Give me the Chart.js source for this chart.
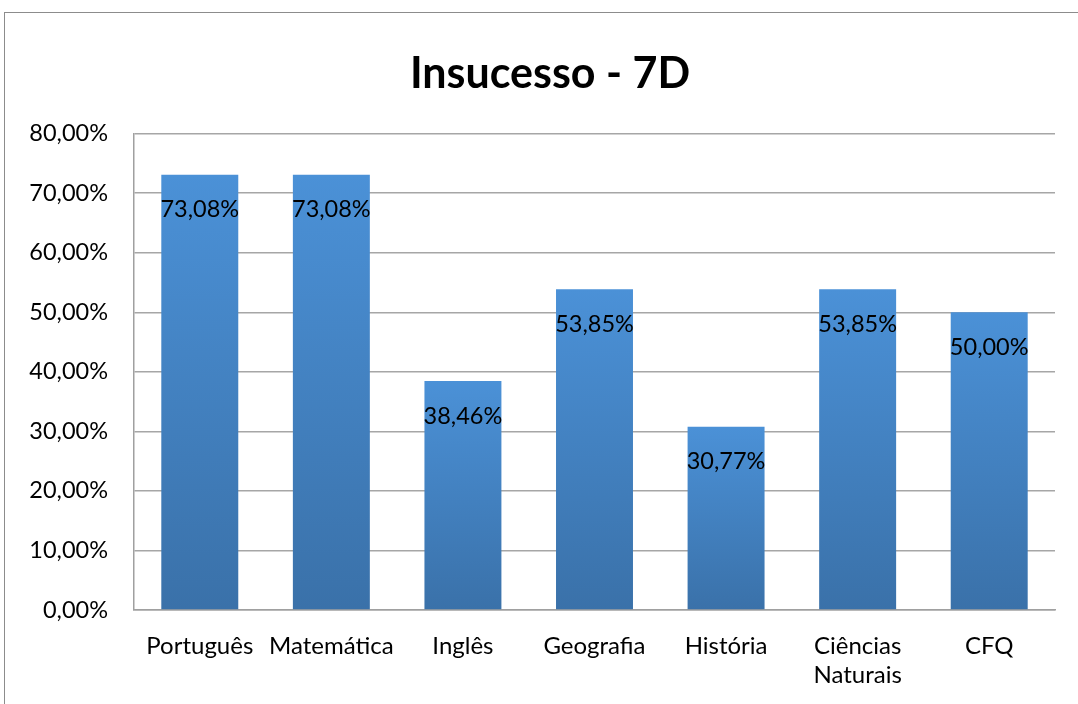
<!DOCTYPE html>
<html>
<head>
<meta charset="utf-8">
<script src="https://cdn.jsdelivr.net/npm/chart.js@4"></script>
<style>
    html, body { margin: 0; padding: 0; background: #fff; overflow: hidden; }
    #frame {
        position: absolute;
        left: 4px;
        top: 12px;
        width: 1092px;
        height: 700px;
        border: 1px solid #8c8c8c;
        box-sizing: border-box;
    }
    canvas { display: block; }
</style>
</head>
<body>
<div id="frame">
    <canvas id="insucessoChart" width="1090" height="698"></canvas>
</div>
<script>
// Data
const categories = ['Português', 'Matemática', 'Inglês', 'Geografia', 'História', ['Ciências', 'Naturais'], 'CFQ'];
const insucesso = [73.08, 73.08, 38.46, 53.85, 30.77, 53.85, 50.00];
const yTicks = [0, 10, 20, 30, 40, 50, 60, 70, 80];

const fontFamily = 'Lato, "Open Sans", sans-serif';

function fmtPct(v) {
    return v.toFixed(2).replace('.', ',') + '%';
}

// Vertical gradient for each bar, light at the top, darker at the base
function barGradient(context) {
    const chart = context.chart;
    if (!chart.chartArea || !chart.scales.y) return '#4a8fd4';
    const yScale = chart.scales.y;
    const top = yScale.getPixelForValue(context.raw);
    const bottom = yScale.getPixelForValue(0);
    const g = chart.ctx.createLinearGradient(0, top, 0, bottom);
    g.addColorStop(0, '#4b91d7');
    g.addColorStop(1, '#3a71a9');
    return g;
}

// Draw the value inside each bar, near its top
const valueLabels = {
    id: 'valueLabels',
    afterDatasetsDraw(chart) {
        const ctx = chart.ctx;
        const meta = chart.getDatasetMeta(0);
        ctx.save();
        ctx.font = '23.5px ' + fontFamily;
        ctx.fillStyle = '#000';
        ctx.textAlign = 'center';
        ctx.textBaseline = 'middle';
        meta.data.forEach((bar, i) => {
            ctx.fillText(fmtPct(insucesso[i]), bar.x, bar.y + 35);
        });
        ctx.restore();
    }
};

const ctx = document.getElementById('insucessoChart').getContext('2d');

const myChart = new Chart(ctx, {
    type: 'bar',
    data: {
        labels: categories,
        datasets: [{
            label: 'Insucesso',
            data: insucesso,
            backgroundColor: barGradient,
            borderWidth: 0,
            barPercentage: 0.585,
            categoryPercentage: 1.0
        }]
    },
    options: {
        responsive: false,
        animation: false,
        layout: {
            padding: 0
        },
        scales: {
            x: {
                grid: { display: false, drawTicks: false },
                border: { display: true, color: '#a0a0a0', width: 1.5 },
                ticks: {
                    color: '#000',
                    padding: 22,
                    maxRotation: 0,
                    autoSkip: false,
                    font: { family: fontFamily, size: 24 }
                },
                afterFit: (scale) => { scale.height = 101; }
            },
            y: {
                min: 0,
                max: 80,
                afterBuildTicks: (scale) => {
                    scale.ticks = yTicks.map(v => ({ value: v }));
                },
                grid: { color: '#a6a6a6', lineWidth: 1.5, drawTicks: false },
                border: { display: true, color: '#a0a0a0', width: 1.5 },
                ticks: {
                    color: '#000',
                    padding: 26,
                    font: { family: fontFamily, size: 23.5 },
                    callback: (v) => fmtPct(v)
                },
                afterFit: (scale) => { scale.width = 129; }
            },
            // empty right-hand axis: only reserves the blank strip right of the plot
            yRight: {
                position: 'right',
                min: 0,
                max: 80,
                grid: { display: false, drawTicks: false },
                border: { display: false },
                ticks: { display: false },
                afterFit: (scale) => { scale.width = 40; }
            }
        },
        plugins: {
            legend: { display: false },
            tooltip: { enabled: false },
            title: {
                display: true,
                text: 'Insucesso - 7D',
                color: '#000',
                font: { family: fontFamily, size: 43, weight: 'bold' },
                padding: { top: 35, bottom: 34 }
            }
        }
    },
    plugins: [valueLabels]
});
</script>
</body>
</html>
